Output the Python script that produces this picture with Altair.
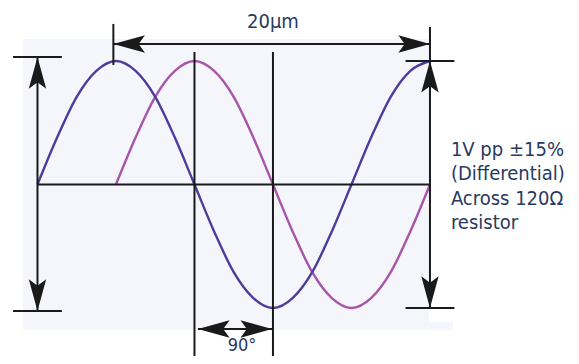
import altair as alt
import pandas as pd

# ---- data (x in degrees of phase, y in volts, normalised) ----
blue_deg = [0, 22.5, 45, 67.5, 90, 112.5, 135, 157.5, 180, 202.5, 225, 247.5, 270,
            292.5, 315, 337.5, 360, 382.5, 405, 427.5, 450]
blue_val = [0, 0.38, 0.71, 0.92, 1, 0.92, 0.71, 0.38, 0, -0.38, -0.71, -0.92, -1,
            -0.92, -0.71, -0.38, 0, 0.38, 0.71, 0.92, 1]
purple_deg = [90, 112.5, 135, 157.5, 180, 202.5, 225, 247.5, 270, 292.5, 315, 337.5,
              360, 382.5, 405, 427.5, 450]
purple_val = [0, 0.38, 0.71, 0.92, 1, 0.92, 0.71, 0.38, 0, -0.38, -0.71, -0.92,
              -1, -0.92, -0.71, -0.38, 0]

# guide lines (dimension lines, ticks)
seg_x = [0, 180, 270, 450, 0, -28, -28, 422, 422, 87, 87, 184]
seg_x2 = [450, 180, 270, 450, 0, 28, 28, 478, 478, 87, 450, 269]
seg_y = [0, 1.073, 1.073, 1.275, 1.032, 1.032, -1.024, 1.0, -1.0, 1.300, 1.138, -1.17]
seg_y2 = [0, -1.389, -1.389, -1.0, -1.024, 1.032, -1.024, 1.0, -1.0, 0.968, 1.138, -1.17]

# arrowheads: tip position and direction
arrow_x = [87, 450, 0, 0, 450, 450, 184, 269]
arrow_y = [1.138, 1.138, 1.032, -1.024, 1.0, -1.0, -1.17, -1.17]
arrow_angle = [270, 90, 0, 180, 0, 180, 270, 90]

# background panel
bg_x = [-16.6, 449]
bg_x2 = [449, 476.4]
bg_y = [1.178, -1.113]
bg_y2 = [-1.178, -1.178]

# labels
title_text = ["20µm"]
title_x = [270]
title_y = [1.267]
note_text = ["1V pp ±15%", "(Differential)", "Across 120Ω", "resistor"]
note_x = [474, 474, 474, 474]
note_y = [0.231, 0.036, -0.166, -0.360]
deg_text = ["90°"]
deg_x = [234.5]
deg_y = [-1.352]

BLUE = "#4a3d9c"
PURPLE = "#a655a9"
INK = "#1a1a1a"
TXT = "#283a5e"
FONT = "DejaVu Sans Condensed"

XS = alt.Scale(domain=[-33.8, 611.7], nice=False, zero=False)
YS = alt.Scale(domain=[-1.389, 1.429], nice=False, zero=False)


def xenc(f="x"):
    return alt.X(f"{f}:Q", scale=XS, axis=None)


def yenc(f="y"):
    return alt.Y(f"{f}:Q", scale=YS, axis=None)


bg = alt.Chart(pd.DataFrame({"x": bg_x, "x2": bg_x2, "y": bg_y, "y2": bg_y2})).mark_rect(
    color="#f5f6fb"
).encode(x=xenc(), x2="x2:Q", y=yenc(), y2="y2:Q")

purple = alt.Chart(pd.DataFrame({"x": purple_deg, "y": purple_val})).mark_line(
    color=PURPLE, strokeWidth=2.4, interpolate="cardinal", tension=0
).encode(x=xenc(), y=yenc())

blue = alt.Chart(pd.DataFrame({"x": blue_deg, "y": blue_val})).mark_line(
    color=BLUE, strokeWidth=2.4, interpolate="cardinal", tension=0
).encode(x=xenc(), y=yenc())

rules = alt.Chart(pd.DataFrame({"x": seg_x, "x2": seg_x2, "y": seg_y, "y2": seg_y2})).mark_rule(
    color=INK, strokeWidth=2
).encode(x=xenc(), x2="x2:Q", y=yenc(), y2="y2:Q")

ARROW = "M0,0 L0.55,2 L0,1.6 L-0.55,2 Z"
heads = alt.Chart(pd.DataFrame({"x": arrow_x, "y": arrow_y, "a": arrow_angle})).mark_point(
    shape=ARROW, filled=True, color=INK, opacity=1, size=1000, strokeWidth=0
).encode(x=xenc(), y=yenc(), angle=alt.Angle("a:Q", scale=None))

title = alt.Chart(pd.DataFrame({"x": title_x, "y": title_y, "t": title_text})).mark_text(
    font=FONT, fontSize=20, color=TXT, baseline="alphabetic", align="center"
).encode(x=xenc(), y=yenc(), text="t:N")

notes = alt.Chart(pd.DataFrame({"x": note_x, "y": note_y, "t": note_text})).mark_text(
    font=FONT, fontSize=20, color=TXT, baseline="alphabetic", align="left"
).encode(x=xenc(), y=yenc(), text="t:N")

deg = alt.Chart(pd.DataFrame({"x": deg_x, "y": deg_y, "t": deg_text})).mark_text(
    font=FONT, fontSize=18, color=TXT, baseline="alphabetic", align="center"
).encode(x=xenc(), y=yenc(), text="t:N")

chart = alt.layer(bg, purple, blue, rules, heads, title, notes, deg).properties(
    width=563, height=348, padding=0, autosize="none", background="white"
).configure_view(stroke=None)

chart.save("out.html", embed_options={"renderer": "svg", "actions": False})
